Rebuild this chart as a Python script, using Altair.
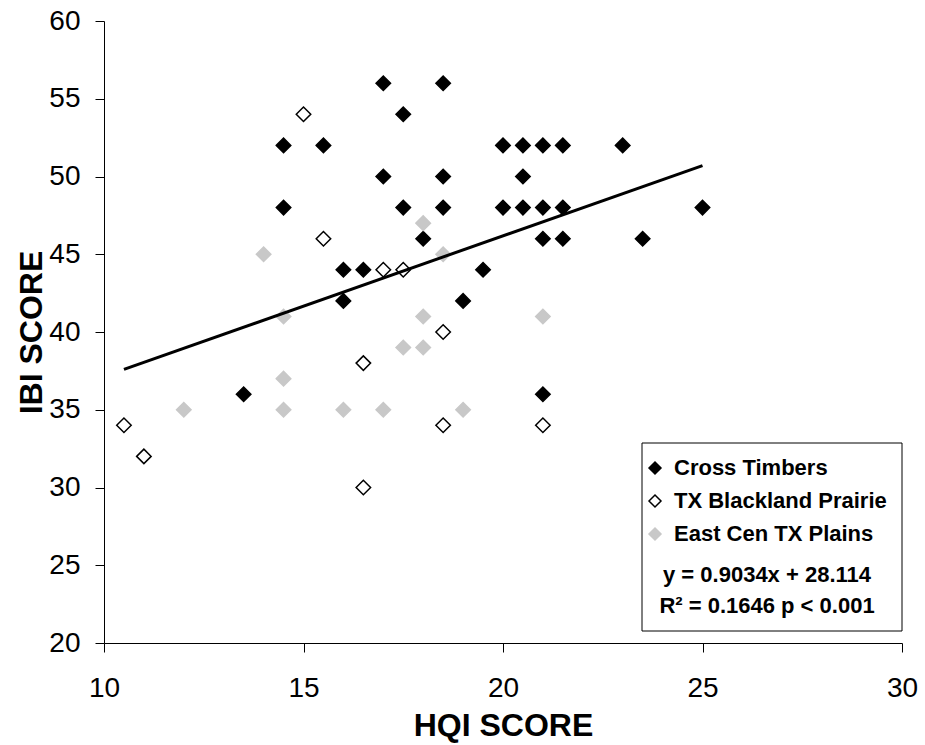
import altair as alt
import pandas as pd

# ---- data ----
series_names = ["Cross Timbers", "TX Blackland Prairie", "East Cen TX Plains"]

ct_hqi = [13.5, 14.5, 14.5, 15.5, 16, 16, 16.5, 17, 17, 17.5, 17.5, 18, 18.5, 18.5, 18.5,
          19, 19.5, 20, 20, 20.5, 20.5, 20.5, 21, 21, 21, 21, 21.5, 21.5, 21.5, 23, 23.5, 25]
ct_ibi = [36, 52, 48, 52, 44, 42, 44, 56, 50, 54, 48, 46, 56, 50, 48,
          42, 44, 52, 48, 52, 50, 48, 52, 48, 46, 36, 52, 48, 46, 52, 46, 48]

tx_hqi = [10.5, 11, 15, 15.5, 16.5, 16.5, 17, 17.5, 18.5, 18.5, 21]
tx_ibi = [34, 32, 54, 46, 38, 30, 44, 44, 40, 34, 34]

ec_hqi = [12, 14, 14.5, 14.5, 14.5, 16, 17, 17.5, 18, 18, 18, 18.5, 19, 21]
ec_ibi = [35, 45, 41, 37, 35, 35, 35, 39, 47, 41, 39, 45, 35, 41]

# fitted line as printed on the chart
fit_slope = 0.9034
fit_intercept = 28.114
fit_x_range = [10.5, 25]

eq_lines = ["y = 0.9034x + 28.114", "R\u00b2 = 0.1646 p < 0.001"]

x_ticks = [10, 15, 20, 25, 30]
y_ticks = [20, 25, 30, 35, 40, 45, 50, 55, 60]

fill_colors = ["#000000", "#ffffff", "#c8c8c8"]
stroke_colors = ["#000000", "#000000", "#c8c8c8"]

# ---- tables ----
rows = []
for name, xs, ys in [(series_names[0], ct_hqi, ct_ibi),
                     (series_names[1], tx_hqi, tx_ibi),
                     (series_names[2], ec_hqi, ec_ibi)]:
    for a, b in zip(xs, ys):
        rows.append({"series": name, "hqi": a, "ibi": b})
pts = pd.DataFrame(rows)
pts["order"] = range(len(pts))

fit_df = pd.DataFrame({"hqi": fit_x_range})

FONT = "Liberation Sans"
W, H = 798, 622

x_enc = alt.X("hqi:Q",
              scale=alt.Scale(domain=[10, 30], nice=False, zero=False),
              axis=alt.Axis(values=x_ticks, title="HQI SCORE", labelPadding=22,
                            labelFlush=False, labelOverlap=False,
                            titleX=W / 2, titleY=92, titleBaseline="alphabetic",
                            titleAnchor="middle"))
y_enc = alt.Y("ibi:Q",
              scale=alt.Scale(domain=[20, 60], nice=False, zero=False),
              axis=alt.Axis(values=y_ticks, title="IBI SCORE", labelPadding=15,
                            labelFlush=False, labelOverlap=False,
                            titleAngle=270, titleX=-63, titleY=H / 2,
                            titleBaseline="alphabetic", titleAlign="center"))

box = alt.Chart(alt.Data(values=[{}])).mark_rect(
    fill="white", stroke="black", strokeWidth=1
).encode(x=alt.value(538), x2=alt.value(798), y=alt.value(422), y2=alt.value(610))

points = alt.Chart(pts).mark_point(
    shape="diamond", size=210, strokeWidth=1.5, filled=False, opacity=1
).encode(
    x=x_enc,
    y=y_enc,
    fill=alt.Fill("series:N", scale=alt.Scale(domain=series_names, range=fill_colors),
                  legend=alt.Legend(title=None)),
    stroke=alt.Stroke("series:N", scale=alt.Scale(domain=series_names, range=stroke_colors),
                      legend=alt.Legend(title=None)),
    order=alt.Order("order:Q"),
)

line = alt.Chart(fit_df).transform_calculate(
    ibi=f"{fit_slope} * datum.hqi + {fit_intercept}"
).mark_line(color="black", strokeWidth=3).encode(x=x_enc, y=y_enc)

eq1 = alt.Chart(alt.Data(values=[{"t": eq_lines[0]}])).mark_text(
    font=FONT, fontSize=22, fontWeight="bold", align="center", baseline="alphabetic", color="black"
).encode(x=alt.value(663), y=alt.value(561), text="t:N")
eq2 = alt.Chart(alt.Data(values=[{"t": eq_lines[1]}])).mark_text(
    font=FONT, fontSize=22, fontWeight="bold", align="center", baseline="alphabetic", color="black"
).encode(x=alt.value(663), y=alt.value(592), text="t:N")

chart = alt.layer(box, points, line, eq1, eq2).properties(
    width=W, height=H,
    autosize=alt.AutoSizeParams(type="none"),
    padding={"left": 104, "top": 21, "right": 23, "bottom": 101},
).configure_view(
    stroke=None
).configure_axis(
    grid=False, domainColor="black", domainWidth=1, tickColor="black", tickWidth=1,
    tickSize=9, labelFont=FONT, labelFontSize=28, labelColor="black",
    titleFont=FONT, titleFontSize=32, titleFontWeight="bold", titleColor="black",
).configure_legend(
    orient="none", legendX=540, legendY=436, padding=0,
    symbolType="diamond", symbolSize=144, symbolStrokeWidth=1.5,
    labelFont=FONT, labelFontSize=22, labelFontWeight="bold", labelColor="black",
    labelLimit=400, labelOffset=8, rowPadding=11,
)

chart.save("out.html", embed_options={"renderer": "svg", "actions": False})
